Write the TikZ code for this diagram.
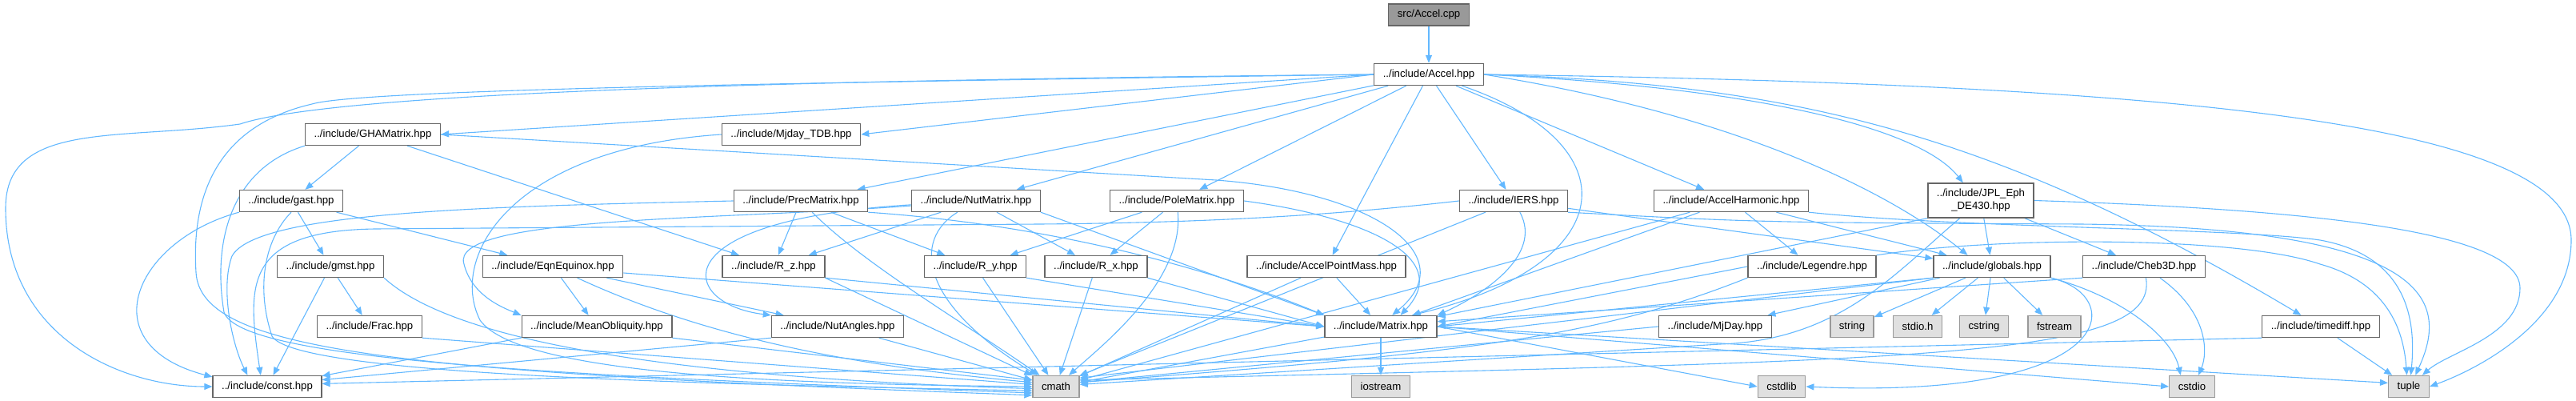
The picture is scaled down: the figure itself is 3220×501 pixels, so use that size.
\documentclass[tikz,border=0pt]{standalone}
\usepackage{fontspec}
\setmainfont{Liberation Sans}
\usetikzlibrary{arrows.meta,backgrounds}
\definecolor{edgeblue}{HTML}{63B8FF}
\definecolor{boxline}{HTML}{666666}
\definecolor{sysline}{HTML}{999999}
\definecolor{sysfill}{HTML}{E0E0E0}
\definecolor{mainfill}{HTML}{999999}
\tikzset{
	hdr/.style = {draw = boxline, fill = white, line width = 0.7pt, inner xsep = 5.5pt, inner ysep = 0pt, minimum height = 13.5pt, font = \fontsize{6.6}{8}\selectfont},
	sysh/.style = {hdr, draw = sysline, fill = sysfill},
	mainf/.style = {hdr, fill = mainfill},
	incl/.style = {draw = edgeblue, line width = 0.55pt, -{Triangle[length = 5pt, width = 4pt]}},
}
\begin{document}
\begin{tikzpicture}[x = 0.5pt, y = -0.5pt]
	\useasboundingbox (0,0) rectangle (3220,501);
	% headers, row by row
	\node[mainf] (cpp) at (1786,18.5) {src/Accel.cpp};
	\node[hdr] (accel) at (1786,93) {../include/Accel.hpp};
	\node[hdr] (gha) at (466,168) {../include/GHAMatrix.hpp};
	\node[hdr] (mjtdb) at (989,168) {../include/Mjday\_TDB.hpp};
	\node[hdr] (gast) at (364,251) {../include/gast.hpp};
	\node[hdr] (prec) at (1001,251) {../include/PrecMatrix.hpp};
	\node[hdr] (nut) at (1220,251) {../include/NutMatrix.hpp};
	\node[hdr] (pole) at (1471,251) {../include/PoleMatrix.hpp};
	\node[hdr] (iers) at (1892,251) {../include/IERS.hpp};
	\node[hdr] (harm) at (2164,251) {../include/AccelHarmonic.hpp};
	\node[hdr, minimum height = 21.5pt, align = center] (jpl) at (2476,250.5) {../include/JPL\_Eph\\\_DE430.hpp};
	\node[hdr] (gmst) at (413,333) {../include/gmst.hpp};
	\node[hdr] (eqn) at (691,333) {../include/EqnEquinox.hpp};
	\node[hdr] (rz) at (967,333) {../include/R\_z.hpp};
	\node[hdr] (ry) at (1219,333) {../include/R\_y.hpp};
	\node[hdr] (rx) at (1370,333) {../include/R\_x.hpp};
	\node[hdr] (apm) at (1658,333) {../include/AccelPointMass.hpp};
	\node[hdr] (leg) at (2265,333) {../include/Legendre.hpp};
	\node[hdr] (glob) at (2490,333) {../include/globals.hpp};
	\node[hdr] (cheb) at (2680,333) {../include/Cheb3D.hpp};
	\node[hdr] (frac) at (462,408) {../include/Frac.hpp};
	\node[hdr] (mob) at (746,408) {../include/MeanObliquity.hpp};
	\node[hdr] (nutang) at (1047,408) {../include/NutAngles.hpp};
	\node[hdr] (matrix) at (1726,408) {../include/Matrix.hpp};
	\node[hdr] (mjday) at (2144,408) {../include/MjDay.hpp};
	\node[sysh] (string) at (2315,408) {string};
	\node[sysh] (stdioh) at (2397,408) {stdio.h};
	\node[sysh] (cstring) at (2480,408) {cstring};
	\node[sysh] (fstream) at (2568,408) {fstream};
	\node[hdr] (timediff) at (2901,408) {../include/timediff.hpp};
	\node[hdr] (const) at (334,483) {../include/const.hpp};
	\node[sysh] (cmath) at (1320,483) {cmath};
	\node[sysh] (iostream) at (1726,483) {iostream};
	\node[sysh] (cstdlib) at (2227,483) {cstdlib};
	\node[sysh] (cstdio) at (2740,483) {cstdio};
	\node[sysh] (tuple) at (3011,483) {tuple};

	\begin{scope}[on background layer]
	\draw[incl] (cpp) -- (accel);
	% Accel.hpp
	\draw[incl] (accel.west) .. controls (1000,100) and (420,115) .. (300,155) .. controls (150,176) and (7,150) .. (7,260) .. controls (7,420) and (150,483) .. (const.west);
	\draw[incl] (accel.west) .. controls (1000,103) and (450,112) .. (390,130) .. controls (260,160) and (240,260) .. (245,340) .. controls (250,440) and (500,465) .. (cmath.200);
	\draw[incl] (accel.west) -- (gha.east);
	\draw[incl] (accel.west) -- (mjtdb.east);
	\draw[incl] (accel) -- (prec);
	\draw[incl] (accel) -- (nut);
	\draw[incl] (accel) -- (pole);
	\draw[incl] (accel) -- (apm);
	\draw[incl] (accel) -- (iers);
	\draw[incl] (accel) .. controls (2040,180) and (2030,330) .. (matrix.20);
	\draw[incl] (accel) -- (harm);
	\draw[incl] (accel.east) .. controls (2150,140) and (2350,230) .. (glob.155);
	\draw[incl] (accel.east) .. controls (2200,110) and (2400,160) .. (jpl.135);
	\draw[incl] (accel.east) .. controls (2250,105) and (2500,170) .. (timediff.150);
	\draw[incl] (accel.east) .. controls (2700,105) and (3214,150) .. (3214,300) .. controls (3214,400) and (3100,460) .. (tuple.east);
	% GHAMatrix.hpp, Mjday_TDB.hpp
	\draw[incl] (gha) -- (gast);
	\draw[incl] (gha) -- (rz);
	\draw[incl] (gha.east) -- (1520,225) .. controls (1720,240) and (1830,320) .. (matrix.45);
	\draw[incl] (gha.south west) .. controls (290,210) and (265,300) .. (280,390) .. controls (300,450) and (700,470) .. (cmath.195);
	\draw[incl] (mjtdb.west) .. controls (640,185) and (560,320) .. (600,400) .. controls (650,470) and (1000,480) .. (cmath.180);
	% gast, gmst, Frac
	\draw[incl] (gast) -- (gmst);
	\draw[incl] (gast) -- (eqn);
	\draw[incl] (gast.south west) .. controls (170,300) and (110,430) .. (const.170);
	\draw[incl] (gast.south) .. controls (330,300) and (320,360) .. (340,420) .. controls (370,470) and (900,480) .. (cmath.190);
	\draw[incl] (gmst) -- (frac);
	\draw[incl] (gmst) -- (const);
	\draw[incl] (gmst.south east) .. controls (560,420) and (800,470) .. (cmath.185);
	\draw[incl] (frac.south east) -- (cmath.175);
	% EqnEquinox, MeanObliquity, NutAngles
	\draw[incl] (eqn) -- (mob);
	\draw[incl] (eqn) -- (nutang);
	\draw[incl] (eqn) .. controls (900,430) and (1100,460) .. (cmath.170);
	\draw[incl] ([yshift = -4pt]eqn.east) -- (matrix.west);
	\draw[incl] (mob.south west) -- (const.11);
	\draw[incl] (mob.south east) -- (cmath.165);
	\draw[incl] (nutang.south west) -- (const.7);
	\draw[incl] (nutang) -- (cmath);
	% PrecMatrix, NutMatrix, PoleMatrix
	\draw[incl] (prec.west) .. controls (600,258) and (320,265) .. (290,320) .. controls (275,360) and (290,430) .. (const.150);
	\draw[incl] (prec) -- (rz);
	\draw[incl] (prec) -- (ry);
	\draw[incl] (prec) .. controls (1080,330) and (1200,400) .. (cmath);
	\draw[incl] (prec.south east) .. controls (1300,280) and (1500,330) .. (matrix.north west);
	\draw[incl] (nut) .. controls (820,275) and (850,380) .. (nutang.north west);
	\draw[incl] (nut) .. controls (900,275) and (560,270) .. (580,330) .. controls (590,370) and (630,385) .. (mob.north west);
	\draw[incl] (nut) -- (rz);
	\draw[incl] (nut) -- (rx);
	\draw[incl] (nut) .. controls (1140,300) and (1150,380) .. (cmath);
	\draw[incl] (nut.south east) -- (matrix.north west);
	\draw[incl] (pole) -- (ry);
	\draw[incl] (pole) -- (rx);
	\draw[incl] (pole) .. controls (1480,350) and (1380,430) .. (cmath);
	\draw[incl] (pole.east) .. controls (1700,270) and (1820,320) .. (matrix.30);
	% rotations
	\draw[incl] (rz.south east) -- (matrix.west);
	\draw[incl] (rz.south east) -- (cmath);
	\draw[incl] (ry.south east) -- (matrix.west);
	\draw[incl] (ry) -- (cmath);
	\draw[incl] (rx.south east) -- (matrix.west);
	\draw[incl] (rx) -- (cmath);
	\draw[incl] (apm) -- (matrix);
	\draw[incl] (apm) -- (cmath);
	% IERS, AccelHarmonic, Legendre
	\draw[incl] (iers) .. controls (1930,320) and (1850,370) .. (matrix.north east);
	\draw[incl] (iers) -- (cmath.25);
	\draw[incl] (iers.west) .. controls (1700,265) and (1550,278) .. (1300,280) -- (470,286) .. controls (300,288) and (310,360) .. (const.120);
	\draw[incl] (iers) -- (glob);
	\draw[incl] (iers.south east) .. controls (2200,278) .. (2600,280) .. controls (3050,285) and (3060,380) .. (tuple.60);
	\draw[incl] (harm) -- (leg);
	\draw[incl] (harm) -- (glob);
	\draw[incl] (harm) -- (matrix);
	\draw[incl] (harm) -- (cmath.15);
	\draw[incl] (harm.south east) .. controls (2450,285) and (2800,285) .. (2900,300) .. controls (3010,320) and (3020,400) .. (tuple.80);
	\draw[incl] (leg.west) -- (matrix.east);
	\draw[incl] (leg.south west) .. controls (2000,420) and (1850,440) .. (cmath.10);
	\draw[incl] (leg.north east) .. controls (2500,295) and (2800,295) .. (2900,330) .. controls (2990,355) and (3005,420) .. (tuple.100);
	% JPL_Eph, Cheb3D, globals
	\draw[incl] (jpl) -- (glob);
	\draw[incl] (jpl) -- (cheb);
	\draw[incl] (jpl.south west) -- (matrix.10);
	\draw[incl] (jpl) .. controls (2370,340) and (2300,425) .. (2150,430) -- (cmath.5);
	\draw[incl] (jpl.east) .. controls (2900,262) and (3150,290) .. (3150,360) .. controls (3150,420) and (3060,440) .. (tuple.40);
	\draw[incl] (cheb.south west) -- (matrix.5);
	\draw[incl] (cheb) .. controls (2760,390) and (2760,440) .. (cstdio.60);
	\draw[incl] (cheb) .. controls (2700,450) and (2400,450) .. (cmath.15);
	\draw[incl] (glob.south west) -- (matrix.east);
	\draw[incl] (glob) -- (mjday);
	\draw[incl] (glob) -- (string);
	\draw[incl] (glob) -- (stdioh);
	\draw[incl] (glob) -- (cstring);
	\draw[incl] (glob) -- (fstream);
	\draw[incl] (glob.south east) .. controls (2660,370) and (2650,500) .. (cstdlib.east);
	\draw[incl] (glob.south east) .. controls (2650,370) and (2715,420) .. (cstdio.135);
	\draw[incl] (glob.south west) -- (cmath.20);
	\draw[incl] (mjday.west) -- (cmath.10);
	% timediff, Matrix
	\draw[incl] (timediff) -- (tuple);
	\draw[incl] (timediff.south west) -- (const.3);
	\draw[incl] (matrix) -- (cmath);
	\draw[incl] (matrix) -- (iostream);
	\draw[incl] (matrix.east) -- (cstdlib.west);
	\draw[incl] (matrix.east) -- (cstdio.west);
	\draw[incl] (matrix.east) -- (tuple.170);
	\end{scope}
\end{tikzpicture}
\end{document}
